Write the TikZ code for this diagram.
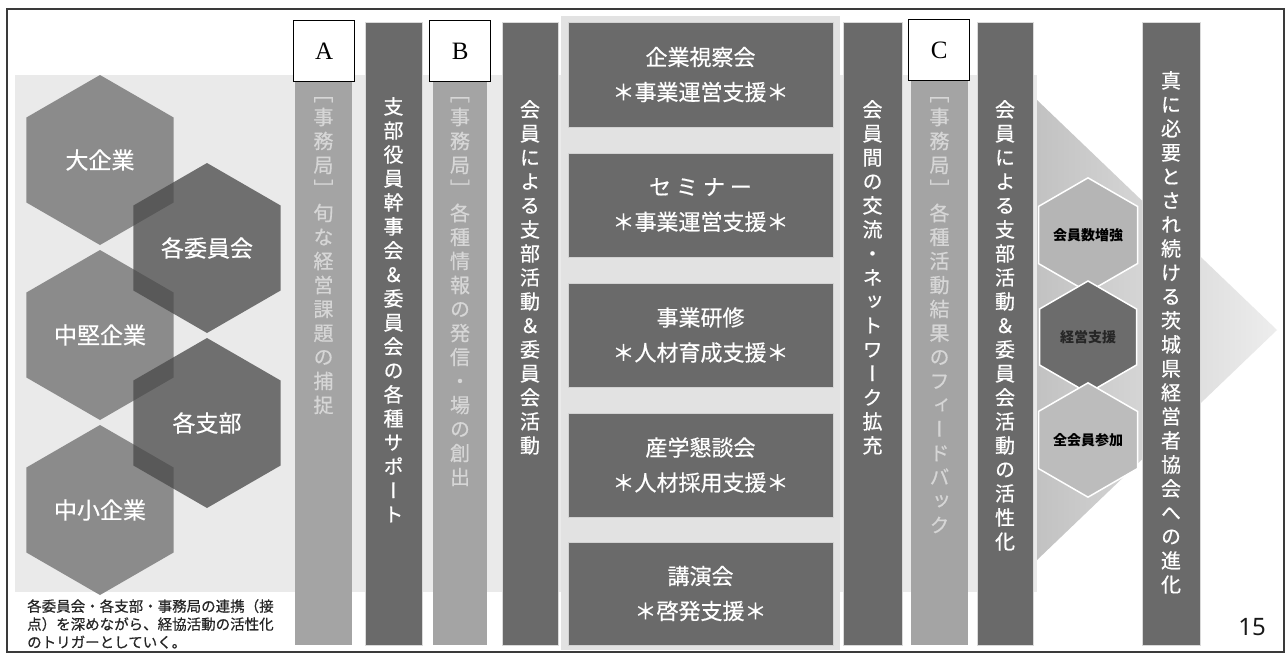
\documentclass[tikz,border=0pt]{standalone}
\usepackage{fontspec}
\setmainfont{Noto Sans CJK JP}
\newfontfamily\jp{Noto Sans CJK JP}
\newfontfamily\jpm[FakeBold=0.5]{Noto Sans CJK JP}
\newfontfamily\jpv[RawFeature=+vert,FakeBold=0.6]{Noto Sans CJK JP}
\newfontfamily\lat{Liberation Serif}
\newfontfamily\num{Noto Sans}
\usetikzlibrary{shapes.geometric}
\definecolor{bardark}{HTML}{6A6A6A}
\definecolor{barlight}{HTML}{A4A4A4}
\definecolor{lighttext}{HTML}{D6D6D6}
\definecolor{bandgray}{HTML}{EAEAEA}
\definecolor{panelgray}{HTML}{E2E2E2}
\definecolor{hexlight}{HTML}{8B8B8B}
\definecolor{hexdark}{HTML}{4B4B4B}
\definecolor{framecol}{HTML}{3A3A3A}
\definecolor{smalllight}{HTML}{B5B5B5}
\definecolor{smalldark}{HTML}{6C6C6C}
\makeatletter
\newcommand\vt[1]{\vbox{\baselineskip=24pt\lineskiplimit=-\maxdimen\@tfor\vch:=#1\do{\hbox to 24pt{\hss\vch\hss}}}}
\makeatother
\tikzset{
  darkbar/.style={fill=bardark, inner sep=0pt, outer sep=0pt, anchor=north west, draw=white!75!bardark, line width=0.6pt},
  lightbar/.style={fill=barlight, inner sep=0pt, outer sep=0pt, anchor=north west},
  eventbox/.style={fill=bardark, inner sep=0pt, outer sep=0pt, anchor=north west, minimum width=265pt, draw=white!70!bardark, line width=0.8pt},
  eventtext/.style={text=white, align=center, font=\jpm\fontsize{22}{35}\selectfont},
  letterbox/.style={fill=white, draw=black, line width=1.2pt, inner sep=0pt, anchor=north west, minimum width=61pt, minimum height=61pt, font=\lat\fontsize{25}{25}\selectfont},
  vdark/.style={anchor=north, inner sep=0pt, text=white, font=\jpv\fontsize{20}{24}\selectfont},
  vlight/.style={anchor=north, inner sep=0pt, text=lighttext, font=\jpv\fontsize{20}{24}\selectfont},
  hexbase/.style={regular polygon, regular polygon sides=6, shape border rotate=30, inner sep=0pt},
  hexL/.style={hexbase, minimum size=170pt, fill=hexlight, text=white, font=\jpm\fontsize{23}{23}\selectfont},
  hexR/.style={hexbase, minimum size=170pt, fill=hexdark, fill opacity=0.77, text opacity=1, text=white, font=\jpm\fontsize{23}{23}\selectfont},
  hexS/.style={hexbase, minimum size=112pt, draw=white, line width=1.5pt, text=black, font=\jp\bfseries\fontsize{14}{14}\selectfont}
}
\begin{document}
\begin{tikzpicture}[x=1pt,y=-1pt]
\useasboundingbox (0,0) rectangle (1288,656);
\fill[white] (0,0) rectangle (1288,656);
% background band and chevron
\fill[bandgray] (15,75) rectangle (1037,592);
\shade[left color=black!24, right color=black!7] (1037,100) -- (1277,330) -- (1037,560) -- cycle;
% left hexagons
\node[hexL] (h1) at (100,160) {大企業};
\node[hexL] (h3) at (100,335) {中堅企業};
\node[hexL] (h5) at (100,510) {中小企業};
\node[hexR] (h2) at (207,248) {各委員会};
\node[hexR] (h4) at (207,423) {各支部};
% note
\node[anchor=north west, inner sep=0pt, align=left, text=black!85, font=\jpm\fontsize{14.5}{18}\selectfont] (note) at (27,599) {各委員会・各支部・事務局の連携（接\\点）を深めながら、経協活動の活性化\\のトリガーとしていく。};
% bars
\node[lightbar, minimum width=57pt, minimum height=564pt] (barA) at (295,81) {};
\node[darkbar, minimum width=57pt, minimum height=623pt] (bar2) at (365,22) {};
\node[lightbar, minimum width=54pt, minimum height=564pt] (barB) at (433,81) {};
\node[darkbar, minimum width=56pt, minimum height=623pt] (bar4) at (502,22) {};
\fill[panelgray] (561,16) rectangle (840,650);
\node[darkbar, minimum width=59pt, minimum height=623pt] (bar6) at (843,22) {};
\node[lightbar, minimum width=57pt, minimum height=565pt] (barC) at (911,80) {};
\node[darkbar, minimum width=56pt, minimum height=623pt] (bar8) at (977,22) {};
\node[darkbar, minimum width=58pt, minimum height=623pt] (barF) at (1142,22) {};
% letter boxes
\node[letterbox] (boxA) at (293,20) {A};
\node[letterbox] (boxB) at (429,20) {B};
\node[letterbox] (boxC) at (908,19) {C};
% vertical texts
\node[vlight] (tA) at (323.5,97) {\vt{［事務局］旬な経営課題の捕捉}};
\node[vdark] (t2) at (393.5,97) {\vt{支部役員幹事会＆委員会の各種サポート}};
\node[vlight] (tB) at (460,97) {\vt{［事務局］各種情報の発信・場の創出}};
\node[vdark] (t4) at (530,100) {\vt{会員による支部活動＆委員会活動}};
\node[vdark] (t6) at (872.5,100) {\vt{会員間の交流・ネットワーク拡充}};
\node[vlight] (tC) at (939.5,97) {\vt{［事務局］各種活動結果のフィードバック}};
\node[vdark] (t8) at (1005,100) {\vt{会員による支部活動＆委員会活動の活性化}};
\node[vdark] (tF) at (1171,71) {\vt{真に必要とされ続ける茨城県経営者協会への進化}};
% event boxes
\node[eventbox, minimum height=105pt] (e1) at (568,22) {};
\node[eventbox, minimum height=104pt] (e2) at (568,153) {};
\node[eventbox, minimum height=104pt] (e3) at (568,283) {};
\node[eventbox, minimum height=104pt] (e4) at (568,413) {};
\node[eventbox, minimum height=103pt] (e5) at (568,542) {};
\node[eventtext] (e1t) at (e1.center) {企業視察会\\＊事業運営支援＊};
\node[eventtext] (e2t) at (e2.center) {セ ミ ナ ー\\＊事業運営支援＊};
\node[eventtext] (e3t) at (e3.center) {事業研修\\＊人材育成支援＊};
\node[eventtext] (e4t) at (e4.center) {産学懇談会\\＊人材採用支援＊};
\node[eventtext] (e5t) at (e5.center) {講演会\\＊啓発支援＊};
% right small hexagons
\node[hexS, fill=smalllight] (s1) at (1088,235) {会員数増強};
\node[hexS, fill=smalldark, text=black!85] (s2) at (1088,337) {経営支援};
\node[hexS, fill=smalllight!90!white] (s3) at (1088,440) {全会員参加};
% page number
\node[font=\num\bfseries\fontsize{24}{24}\selectfont, text=black!90] (pg) at (1252,627) {15};
% frame
\draw[framecol, line width=1.5pt] (7,9) rectangle (1284,652);
\end{tikzpicture}
\end{document}
